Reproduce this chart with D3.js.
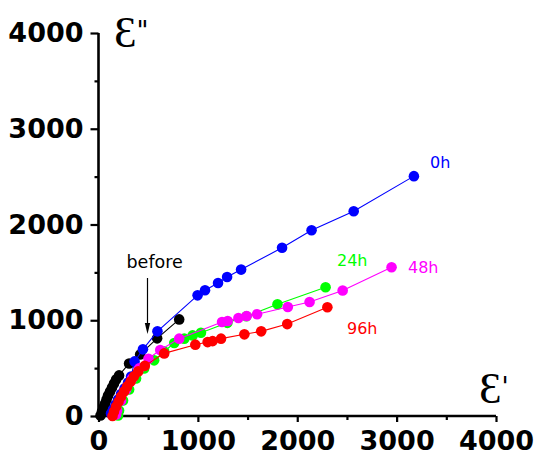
<!DOCTYPE html>
<html>
<head>
<meta charset="utf-8">
<script src="https://cdn.jsdelivr.net/npm/d3@7"></script>
<style>
  html, body { margin: 0; padding: 0; background: #fff; }
  svg { display: block; }
</style>
</head>
<body>
<div id="chart"></div>
<script>
// ---- data (ε' , ε'') ----
const seriesNames = ["before", "0h", "24h", "48h", "96h"];
const seriesColors = ["#000000", "#0000ff", "#00ff00", "#ff00ff", "#ff0000"];

const beforeX = [20, 35, 50, 66, 81, 96, 116, 136, 156, 177, 207, 308, 419, 590, 812];
const beforeY = [5, 47, 89, 131, 173, 215, 256, 298, 340, 382, 424, 549, 643, 811, 1009];

const h0X = [126, 146, 172, 197, 227, 262, 298, 328, 363, 447, 593, 997, 1072, 1203, 1294, 1435, 1847, 2144, 2568, 3174];
const h0Y = [26, 68, 120, 173, 230, 288, 350, 413, 570, 696, 884, 1260, 1313, 1389, 1452, 1529, 1757, 1940, 2139, 2505];

const h24X = [197, 207, 247, 308, 378, 459, 560, 661, 762, 863, 947, 1031, 1297, 1488, 1801, 2285];
const h24Y = [5, 58, 162, 277, 392, 497, 581, 674, 762, 808, 842, 870, 973, 1041, 1166, 1344];

const h48X = [177, 187, 227, 278, 338, 409, 503, 621, 812, 1243, 1300, 1408, 1491, 1596, 1905, 2124, 2457, 2949];
const h48Y = [16, 58, 162, 277, 392, 497, 598, 690, 808, 981, 992, 1023, 1044, 1062, 1138, 1190, 1310, 1553];

const h96X = [141, 156, 177, 202, 227, 257, 288, 323, 358, 399, 466, 661, 974, 1098, 1148, 1233, 1468, 1637, 1899, 2303];
const h96Y = [0, 47, 99, 152, 204, 256, 309, 361, 414, 466, 524, 654, 745, 772, 782, 808, 853, 884, 960, 1135];

const xTicks = [0, 1000, 2000, 3000, 4000];
const yTicks = [0, 1000, 2000, 3000, 4000];
const minorTicks = [500, 1500, 2500, 3500];

const seriesX = [beforeX, h0X, h24X, h48X, h96X];
const seriesY = [beforeY, h0Y, h24Y, h48Y, h96Y];

// ---- drawing ----
const W = 537, H = 460;
const svg = d3.select("#chart").append("svg").attr("width", W).attr("height", H);

const x = d3.scaleLinear().domain([0, 4000]).range([98.5, 496]);
const y = d3.scaleLinear().domain([0, 4000]).range([416, 33]);

// x axis
const xAxis = svg.append("g").attr("transform", `translate(0,${y(0)})`)
  .call(d3.axisBottom(x).tickValues(xTicks).tickSize(6).tickPadding(9).tickFormat(d3.format("d")));
xAxis.append("g").call(d3.axisBottom(x).tickValues(minorTicks).tickSize(4).tickFormat(""));
// y axis
const yAxis = svg.append("g").attr("transform", `translate(${x(0)},0)`)
  .call(d3.axisLeft(y).tickValues(yTicks).tickSize(8).tickPadding(7).tickFormat(d3.format("d")));
yAxis.append("g").call(d3.axisLeft(y).tickValues(minorTicks).tickSize(4).tickFormat(""));

svg.selectAll(".domain").attr("stroke", "#000").attr("stroke-width", 2.6);
svg.selectAll(".tick line").attr("stroke", "#000").attr("stroke-width", 2.2);
svg.selectAll("g > g > .domain").remove();
xAxis.selectAll(".domain").attr("d", `M${x(0) - 1.3},0H${x(4000)}`);
yAxis.selectAll(".domain").attr("d", `M0,${y(0) + 1.3}V${y(4000)}`);
svg.selectAll(".tick text")
  .attr("font-family", "'DejaVu Sans', sans-serif")
  .attr("font-weight", "bold")
  .attr("font-size", 27)
  .attr("fill", "#000");

// series
const line = d3.line().x(d => x(d[0])).y(d => y(d[1]));
seriesNames.forEach((name, i) => {
  const pts = seriesX[i].map((v, j) => [v, seriesY[i][j]]);
  const g = svg.append("g");
  g.append("path").datum(pts).attr("d", line)
    .attr("fill", "none").attr("stroke", seriesColors[i]).attr("stroke-width", 1.1);
  g.selectAll("circle").data(pts).join("circle")
    .attr("cx", d => x(d[0])).attr("cy", d => y(d[1])).attr("r", 5.3)
    .attr("fill", seriesColors[i]);
});

// series labels
const labels = [
  { t: "0h", c: seriesColors[1], px: 430, py: 168 },
  { t: "24h", c: seriesColors[2], px: 337, py: 266 },
  { t: "48h", c: seriesColors[3], px: 408, py: 273 },
  { t: "96h", c: seriesColors[4], px: 347, py: 334 }
];
svg.selectAll(".slabel").data(labels).join("text")
  .attr("x", d => d.px).attr("y", d => d.py)
  .attr("font-family", "'DejaVu Sans', sans-serif").attr("font-size", 16)
  .attr("fill", d => d.c).text(d => d.t);

// "before" annotation with arrow
svg.append("text").attr("x", 126.5).attr("y", 268)
  .attr("font-family", "'DejaVu Sans', sans-serif").attr("font-size", 17.5)
  .attr("fill", "#000").text("before");
svg.append("line").attr("x1", 147.5).attr("y1", 278).attr("x2", 147.5).attr("y2", 326)
  .attr("stroke", "#000").attr("stroke-width", 1.2);
svg.append("path").attr("d", "M144.8,323 L150.2,323 L147.5,334 Z").attr("fill", "#000");

// axis titles
const t1 = svg.append("text").attr("x", 114).attr("y", 47)
  .attr("font-family", "'Liberation Serif', serif").attr("font-size", 45).attr("fill", "#000");
t1.append("tspan").text("Ɛ");
t1.append("tspan").attr("font-family", "'DejaVu Sans', sans-serif").attr("font-size", 26).attr("dy", -7).text("\"");

const t2 = svg.append("text").attr("x", 479).attr("y", 403)
  .attr("font-family", "'Liberation Serif', serif").attr("font-size", 45).attr("fill", "#000");
t2.append("tspan").text("Ɛ");
t2.append("tspan").attr("font-family", "'DejaVu Sans', sans-serif").attr("font-size", 26).attr("dy", -7).text("'");
</script>
</body>
</html>
